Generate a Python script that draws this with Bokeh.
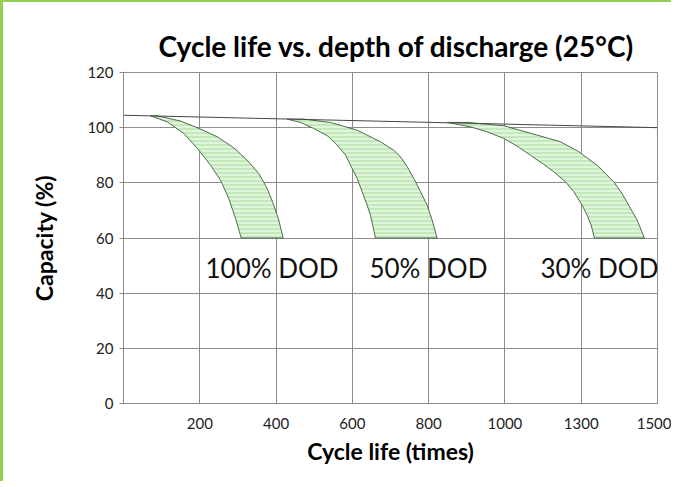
from bokeh.plotting import figure
from bokeh.models import FixedTicker, Range1d, Label
from bokeh.embed import file_html
from bokeh.resources import INLINE

# ---- data (x in axis-position units: 0..7, labelled by tick_labels) ----
tick_positions = [1, 2, 3, 4, 5, 6, 7]
tick_labels = ["200", "400", "600", "800", "1000", "1300", "1500"]
y_ticks = [0, 20, 40, 60, 80, 100, 120]

top_line_x = [0.0, 7.0]
top_line_y = [104.5, 100.0]

dod100_left_x = [0.354, 0.573, 0.790, 0.987, 1.140, 1.271, 1.380, 1.468, 1.543]
dod100_left_y = [104.3, 102.1, 97.9, 91.9, 86.4, 81.0, 74.3, 67.1, 60.0]
dod100_right_x = [0.442, 0.747, 1.009, 1.228, 1.446, 1.621, 1.773, 1.883, 1.970, 2.035, 2.093]
dod100_right_y = [104.3, 102.4, 99.5, 96.7, 92.7, 88.2, 83.4, 78.0, 71.9, 66.5, 60.0]

dod50_left_x = [2.145, 2.320, 2.494, 2.670, 2.801, 2.910, 2.975, 3.063, 3.129, 3.194, 3.237, 3.303]
dod50_left_y = [103.1, 101.9, 99.7, 97.1, 93.7, 90.1, 86.4, 81.6, 76.7, 71.9, 68.3, 60.0]
dod50_right_x = [2.363, 2.713, 3.063, 3.368, 3.543, 3.630, 3.718, 3.805, 3.893, 3.980, 4.046, 4.111]
dod50_right_y = [103.1, 101.9, 99.1, 94.9, 91.8, 89.5, 85.9, 81.6, 76.8, 71.9, 66.5, 60.0]

dod30_left_x = [4.243, 4.548, 4.767, 4.984, 5.160, 5.334, 5.509, 5.640, 5.793, 5.902, 6.012, 6.077, 6.130, 6.173]
dod30_left_y = [101.9, 100.3, 98.5, 96.1, 93.3, 90.0, 86.7, 84.0, 80.4, 76.8, 71.9, 68.3, 64.7, 60.0]
dod30_right_x = [4.505, 4.984, 5.422, 5.727, 5.967, 6.208, 6.339, 6.426, 6.536, 6.622, 6.733, 6.828]
dod30_right_y = [101.9, 100.7, 97.3, 94.9, 91.3, 86.4, 82.8, 80.4, 76.1, 71.9, 66.5, 60.0]

band_labels = ["100% DOD", "50% DOD", "30% DOD"]
band_label_x = [1.075, 3.224, 5.465]
band_label_y = [49, 49, 49]

FONT = "Lato"

p = figure(width=668, height=479, output_backend="svg", toolbar_location=None,
           x_range=Range1d(0, 7), y_range=Range1d(0, 120),
           min_border_left=120, min_border_right=14, min_border_top=70,
           min_border_bottom=78)
p.frame_width = 534
p.frame_height = 331

p.title.text = "Cycle life vs. depth of discharge (25°C)"
p.title.text_font = FONT
p.title.text_font_size = "28px"
p.title.text_font_style = "bold"
p.title.align = "left"
p.title.offset = 35
p.title.standoff = 19
p.title.text_color = "black"

p.outline_line_color = "#8c8c8c"
p.background_fill_color = "white"
p.border_fill_color = "white"
p.styles = {"border-top": "2px solid #92d050", "border-left": "3px solid #92d050"}

# axes
p.xaxis.ticker = FixedTicker(ticks=tick_positions)
p.xaxis.major_label_overrides = {t: l for t, l in zip(tick_positions, tick_labels)}
p.xaxis.major_tick_line_color = None
p.xaxis.minor_tick_line_color = None
p.yaxis.ticker = FixedTicker(ticks=y_ticks)
p.yaxis.minor_tick_line_color = None
p.yaxis.major_tick_in = 0
p.yaxis.major_tick_out = 4
p.yaxis.major_tick_line_color = "#8c8c8c"
for ax in (p.xaxis[0], p.yaxis[0]):
    ax.axis_line_color = "#8c8c8c"
    ax.major_label_text_font = FONT
    ax.major_label_text_font_size = "15px"
    ax.major_label_text_color = "#222222"
    ax.axis_label_text_font = FONT
    ax.axis_label_text_font_size = "23px"
    ax.axis_label_text_font_style = "bold"
    ax.axis_label_text_color = "black"
p.xaxis.axis_label = "Cycle life (times)"
p.yaxis.axis_label = "Capacity (%)"
p.xaxis.major_label_standoff = 8
p.yaxis.major_label_standoff = 6
p.xaxis.axis_label_standoff = 5
p.yaxis.axis_label_standoff = 26

p.xgrid.ticker = FixedTicker(ticks=tick_positions)
p.ygrid.ticker = FixedTicker(ticks=y_ticks)
for g in (p.xgrid[0], p.ygrid[0]):
    g.grid_line_color = "#8c8c8c"
    g.grid_line_width = 1

# bands
bands = [
    (dod100_left_x, dod100_left_y, dod100_right_x, dod100_right_y),
    (dod50_left_x, dod50_left_y, dod50_right_x, dod50_right_y),
    (dod30_left_x, dod30_left_y, dod30_right_x, dod30_right_y),
]
for lx, ly, rx, ry in bands:
    px = list(lx) + list(reversed(rx))
    py = list(ly) + list(reversed(ry))
    p.patch(px, py, fill_color="#e0f6da", line_color="#4d6b4d", line_width=1,
            hatch_pattern="horizontal_line", hatch_color="#a6dc9c",
            hatch_scale=4, hatch_weight=1)

p.line(top_line_x, top_line_y, line_color="#444444", line_width=1)

for t, x, y in zip(band_labels, band_label_x, band_label_y):
    p.add_layout(Label(x=x, y=y, text=t, text_font=FONT, text_font_size="26px",
                       text_color="#111111", text_baseline="middle", text_align="left"))

open("out.html", "w").write(file_html(p, INLINE))
